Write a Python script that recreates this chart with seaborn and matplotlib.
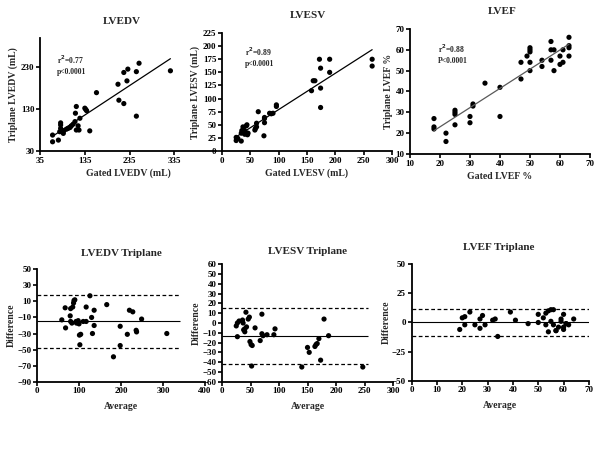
import matplotlib.pyplot as plt
import seaborn as sns

# correlation panels (gated vs triplane)
edv_gated = [63, 63, 76, 79, 81, 81, 81, 83, 87, 88, 94, 98, 102, 105, 109, 113, 114, 116,
             116, 120, 122, 124, 135, 137, 139, 146, 161, 209, 211, 222, 222, 229, 231,
             250, 250, 256, 326]
edv_tri = [68, 52, 56, 76, 84, 92, 97, 80, 72, 78, 82, 84, 86, 90, 94, 100, 120, 136,
           80, 90, 80, 108, 132, 129, 126, 78, 169, 189, 151, 143, 217, 197, 225,
           219, 113, 239, 221]

esv_gated = [25, 25, 28, 34, 34, 35, 37, 39, 40, 41, 43, 44, 45, 46, 58, 59, 61, 61, 64,
             75, 75, 75, 74, 84, 87, 90, 96, 96, 158, 161, 164, 172, 174, 174, 174,
             190, 190, 265, 265]
esv_tri = [26, 20, 24, 19, 34, 39, 46, 40, 32, 37, 48, 50, 31, 34, 40, 43, 46, 53, 75,
           54, 62, 64, 29, 72, 71, 72, 88, 85, 115, 134, 134, 175, 158, 120, 83,
           175, 150, 175, 162]

ef_gated = [18, 18, 18, 22, 22, 25, 25, 25, 25, 30, 30, 31, 31, 35, 40, 40, 47, 47, 49,
            50, 50, 50, 50, 50, 54, 54, 57, 57, 57, 58, 58, 60, 60, 61, 61, 63, 63, 63, 63]
ef_tri = [27, 23, 22, 20, 16, 31, 30, 29, 24, 28, 25, 34, 33, 44, 42, 28, 54, 46, 57,
          61, 60, 59, 54, 50, 55, 52, 64, 60, 55, 60, 50, 57, 53, 54, 60, 66, 62, 61, 57]

# Bland-Altman panels
edv_avg = [59, 67, 68, 79, 80, 80, 83, 85, 87, 88, 90, 93, 94, 98, 100, 101, 104, 102,
           110, 117, 117, 126, 130, 132, 136, 136, 166, 198, 198, 182, 215, 220, 228,
           236, 237, 249, 309]
edv_diff = [-13, 2, -23, -8, 1, -15, -17, 3, 8, 11, 12, -15, -17, -14, -18, -32, -31, -44,
            -15, -15, 3, 17, -10, -30, -1, -20, 6, -21, -45, -59, -31, -1, -3,
            -26, -28, -12, -30]
edv_bias, edv_loa = -15, [18, -48]

esv_avg = [25, 27, 30, 27, 36, 37, 38, 40, 40, 42, 43, 46, 48, 49, 51, 53, 52, 58, 67,
           70, 70, 72, 79, 91, 93, 140, 150, 153, 163, 165, 167, 170, 173, 179, 187, 247]
esv_diff = [-3, 0, 2, -14, 3, 0, -7, -9, -6, 11, -4, 4, 6, -19, -22, -23, -44, -5, -18,
            9, -11, -13, -12, -12, -6, -45, -25, -30, -24, -22, -21, -16, -38, 4, -13, -45]
esv_bias, esv_loa = -13.5, [15, -42]

ef_avg = [19, 20, 21, 21, 23, 25, 27, 27, 28, 29, 32, 33, 34, 39, 41, 46, 50, 50, 52, 53,
          53, 54, 54, 55, 55, 56, 56, 57, 57, 58, 59, 59, 60, 60, 60, 61, 61, 62, 64]
ef_diff = [-6, 4, 5, -2, 9, -2, 3, -5, 6, -2, 2, 3, -12, 9, 2, -1, 0, 7, 4, 8,
           -2, -8, 10, 1, 11, 11, -2, -7, -7, -4, 3, 1, -4, -6, 7, -1, -1, -2, 3]
ef_bias, ef_loa = 0, [11.5, -11.5]

sns.set_theme(style="ticks")
plt.rcParams["font.family"] = ["Liberation Serif", "DejaVu Serif"]
plt.rcParams["font.weight"] = "bold"
plt.rcParams["axes.labelweight"] = "bold"

fig = plt.figure(figsize=(6, 4.5), dpi=100)


def style(ax):
    sns.despine(ax=ax)
    ax.set_facecolor("none")
    for s in ("left", "bottom"):
        ax.spines[s].set_linewidth(1.3)
        ax.spines[s].set_color("black")
    ax.tick_params(direction="out", length=3, width=1.2, labelsize=6.5, pad=1,
                   colors="black")
    for lab in ax.get_xticklabels() + ax.get_yticklabels():
        lab.set_fontweight("bold")


def corr_panel(rect, x, y, xlim, xticks, ylim, yticks, xlabel, ylabel, title,
               title_xy, stats, stats_xy, line_color="black"):
    ax = fig.add_axes(rect)
    sns.scatterplot(x=x, y=y, ax=ax, color="black", s=14, edgecolor="none")
    sns.regplot(x=x, y=y, ax=ax, scatter=False, ci=None, truncate=True,
                line_kws=dict(color=line_color, lw=0.9))
    ax.set_xlim(xlim)
    ax.set_ylim(ylim)
    ax.set_xticks(xticks)
    ax.set_yticks(yticks)
    ax.set_xlabel(xlabel, fontsize=7, labelpad=3)
    ax.set_ylabel(ylabel, fontsize=7, labelpad=2)
    ax.text(*stats_xy, stats, transform=ax.transAxes, fontsize=5.5,
            fontweight="bold", va="top", linespacing=1.3)
    fig.text(title_xy[0] / 600, 1 - title_xy[1] / 450, title, ha="center",
             va="center", fontsize=8, fontweight="bold")
    style(ax)
    return ax


def ba_panel(rect, x, y, bias, loa, xend, xlim, xticks, ylim, yticks, title,
             title_xy):
    ax = fig.add_axes(rect)
    sns.scatterplot(x=x, y=y, ax=ax, color="black", s=14, edgecolor="none")
    ax.hlines(bias, 0, xend, color="black", lw=0.8)
    ax.hlines(loa, 0, xend, color="black", lw=0.9, linestyles=(0, (3, 2)))
    ax.set_xlim(xlim)
    ax.set_ylim(ylim)
    ax.set_xticks(xticks)
    ax.set_yticks(yticks)
    ax.set_xlabel("Average", fontsize=7, labelpad=5)
    ax.set_ylabel("Difference", fontsize=7, labelpad=1)
    fig.text(title_xy[0] / 600, 1 - title_xy[1] / 450, title, ha="center",
             va="center", fontsize=8, fontweight="bold")
    style(ax)
    return ax


corr_panel([0.0667, 0.6644, 0.295, 0.252], edv_gated, edv_tri, (35, 430),
           [35, 135, 235, 335], (30, 300), [30, 130, 230],
           "Gated LVEDV (mL)", "Triplane LVEDV (mL)", "LVEDV", (122, 21),
           "r$^2$=0.77\np<0.0001", (0.095, 0.86))
corr_panel([0.37, 0.6644, 0.2833, 0.2622], esv_gated, esv_tri, (0, 300),
           list(range(0, 301, 50)), (0, 225), list(range(0, 226, 25)),
           "Gated LVESV (mL)", "Triplane LVESV (mL)", "LVESV", (308, 16),
           "r$^2$=0.89\np<0.0001", (0.135, 0.89))
corr_panel([0.6833, 0.6578, 0.3, 0.2778], ef_gated, ef_tri, (10, 70),
           list(range(10, 71, 10)), (10, 70), list(range(10, 71, 10)),
           "Gated LVEF %", "Triplane LVEF %", "LVEF", (502, 12),
           "r$^2$=0.88\nP<0.0001", (0.155, 0.89), line_color="0.35")

ba_panel([0.0617, 0.1518, 0.28, 0.2498], edv_avg, edv_diff, edv_bias, edv_loa, 340,
         (0, 400), list(range(0, 401, 100)), (-90, 50), list(range(-90, 51, 20)),
         "LVEDV Triplane", (121, 254))
ba_panel([0.37, 0.1518, 0.285, 0.2609], esv_avg, esv_diff, esv_bias, esv_loa, 257,
         (0, 300), list(range(0, 301, 50)), (-60, 60), list(range(-60, 61, 10)),
         "LVESV Triplane", (308, 251))
ba_panel([0.686, 0.154, 0.2955, 0.2587], ef_avg, ef_diff, ef_bias, ef_loa, 70,
         (0, 70), list(range(0, 71, 10)), (-50, 50), [-50, -25, 0, 25, 50],
         "LVEF Triplane", (499, 248))

fig.savefig("out.png", dpi=100, facecolor="white")
